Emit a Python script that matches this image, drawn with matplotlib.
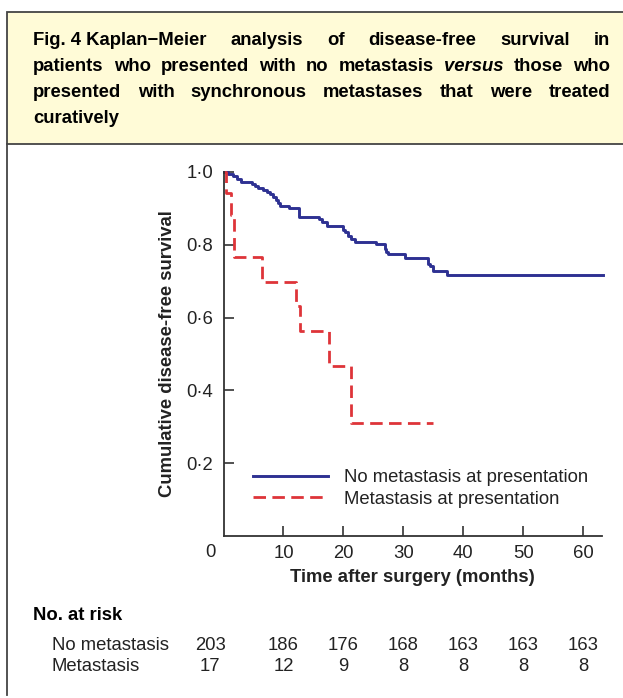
import matplotlib
matplotlib.use('Agg')
import matplotlib.pyplot as plt
from matplotlib.patches import Rectangle
from matplotlib.lines import Line2D
import numpy as np

plt.rcParams['font.family'] = ['Liberation Sans', 'DejaVu Sans']

W, H = 623, 698
fig = plt.figure(figsize=(W / 100, H / 100), dpi=100)

# Kaplan-Meier steps: (time of drop, survival after drop)
nomet_t = [0, 0.8, 1.6, 2.2, 3.0, 4.7, 5.3, 5.8, 6.6, 7.2, 7.8, 8.3, 8.8, 9.1, 9.4,
           11.0, 12.6, 15.9, 16.4, 17.2, 19.9, 20.2, 20.8, 21.3, 22.0, 25.5, 26.9,
           27.1, 27.5, 30.2, 34.1, 34.4, 35.0, 37.2]
nomet_s = [1.0, 0.994, 0.988, 0.982, 0.973, 0.967, 0.961, 0.955, 0.950, 0.945, 0.940,
           0.932, 0.923, 0.914, 0.907, 0.900, 0.877, 0.870, 0.862, 0.852, 0.842, 0.836,
           0.824, 0.816, 0.809, 0.802, 0.788, 0.781, 0.775, 0.763, 0.748, 0.742, 0.729,
           0.716]
nomet_end = 63.3

met_t = [0, 0.5, 1.2, 1.8, 6.5, 12.1, 12.8, 17.6, 21.3]
met_s = [1.0, 0.941, 0.882, 0.766, 0.699, 0.633, 0.563, 0.467, 0.311]
met_end = 34.9

risk_times = [-2.2, 10, 20, 30, 40, 50, 60]
risk_nomet = [203, 186, 176, 168, 163, 163, 163]
risk_met = [17, 12, 9, 8, 8, 8, 8]

blue = '#2E3192'
red = '#DE3439'
txt = '#222222'
fs = 13.3

# caption box
fig.add_artist(Rectangle((7 / W, 1 - 144 / H), 1.0, 132 / H, transform=fig.transFigure,
                         facecolor='#FFFBD7', edgecolor='#444444', lw=1.3))
fig.add_artist(Line2D([7 / W, 7 / W], [1 - 144 / H, 1 - 695 / H], transform=fig.transFigure,
                      color='#444444', lw=1.3))

caption = [
    [('Fig. 4 Kaplan\u2212Meier', 'normal'), ('analysis', 'normal'), ('of', 'normal'),
     ('disease-free', 'normal'), ('survival', 'normal'), ('in', 'normal')],
    [('patients', 'normal'), ('who', 'normal'), ('presented', 'normal'), ('with', 'normal'),
     ('no', 'normal'), ('metastasis', 'normal'), ('versus', 'italic'), ('those', 'normal'),
     ('who', 'normal')],
    [('presented', 'normal'), ('with', 'normal'), ('synchronous', 'normal'),
     ('metastases', 'normal'), ('that', 'normal'), ('were', 'normal'), ('treated', 'normal')],
    [('curatively', 'normal')],
]
renderer = fig.canvas.get_renderer()
x0, x1 = 33, 610
for i, line in enumerate(caption):
    yb = 1 - (45 + 26 * i) / H
    objs = [fig.text(0, yb, w, fontsize=fs, fontweight='bold', style=st, color='black',
                     va='baseline', ha='left') for w, st in line]
    widths = [o.get_window_extent(renderer).width for o in objs]
    if len(objs) > 1 and i < 3:
        gap = (x1 - x0 - sum(widths)) / (len(objs) - 1)
    else:
        gap = 0
    x = x0
    for o, w in zip(objs, widths):
        o.set_x(x / W)
        x += w + gap

# plot area
ax = fig.add_axes([223.5 / W, 1 - 536 / H, (601.7 - 223.5) / W, 364 / H])
ax.step(nomet_t + [nomet_end], nomet_s + [nomet_s[-1]], where='post', color=blue, lw=2.1,
        label='No metastasis at presentation', clip_on=False)
ax.step(met_t + [met_end], met_s + [met_s[-1]], where='post', color=red, lw=2.0,
        linestyle=(0, (4.5, 2.3)), label='Metastasis at presentation', clip_on=False)

ax.set_xlim(0, 63.05)
ax.set_ylim(0, 1.0)
for s in ['top', 'right']:
    ax.spines[s].set_visible(False)
for s in ['left', 'bottom']:
    ax.spines[s].set_color('#333333')
    ax.spines[s].set_linewidth(1.3)

ax.set_xticks([10, 20, 30, 40, 50, 60])
ax.set_yticks([0.2, 0.4, 0.6, 0.8, 1.0])
ax.set_yticklabels(['0\u00b72', '0\u00b74', '0\u00b76', '0\u00b78', '1\u00b70'])
ax.tick_params(direction='in', length=7.5, width=1.2, color='#333333', labelsize=fs,
               labelcolor=txt)
ax.tick_params(axis='y', pad=7.5)
ax.tick_params(axis='x', pad=6.5)
ax.text(-2.2, -0.045, '0', transform=ax.get_xaxis_transform(), ha='center', va='center',
        fontsize=fs, color=txt, clip_on=False)

ax.set_xlabel('Time after surgery (months)', fontsize=fs, fontweight='bold', color=txt)
ax.xaxis.set_label_coords(0.5, -0.092)
fig.text(168 / W, 1 - 354 / H, 'Cumulative disease-free survival', rotation=90,
         ha='center', va='center', fontsize=fs, fontweight='bold', color=txt)

ax.legend(loc='upper left', bbox_to_anchor=(253 / W, 1 - 469 / H),
          bbox_transform=fig.transFigure, frameon=False, fontsize=fs, handlelength=4.05,
          handletextpad=0.9, labelspacing=0.25, borderpad=0, borderaxespad=0,
          labelcolor=txt)

# numbers at risk
fig.text(33.3 / W, 1 - 615.7 / H, 'No. at risk', fontsize=fs, fontweight='bold',
         color='black', ha='left', va='center')
fig.text(51.7 / W, 1 - 645 / H, 'No metastasis', fontsize=fs, color=txt, ha='left',
         va='center')
fig.text(51.7 / W, 1 - 666.7 / H, 'Metastasis', fontsize=fs, color=txt, ha='left',
         va='center')
ya = (536 - 645) / 364
yb = (536 - 666.7) / 364
for t, a, b in zip(risk_times, risk_nomet, risk_met):
    ax.text(t, ya, str(a), transform=ax.get_xaxis_transform(), ha='center', va='center',
            fontsize=fs, color=txt, clip_on=False)
    ax.text(t, yb, str(b), transform=ax.get_xaxis_transform(), ha='center', va='center',
            fontsize=fs, color=txt, clip_on=False)

fig.savefig('out.png', dpi=100)
